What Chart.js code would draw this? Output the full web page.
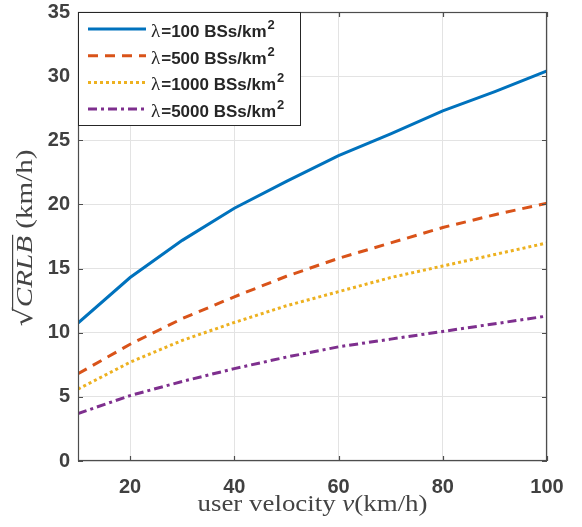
<!DOCTYPE html>
<html>
<head>
<meta charset="utf-8">
<script src="https://cdn.jsdelivr.net/npm/chart.js@4/dist/chart.umd.min.js"></script>
<style>
  body { margin: 0; background: #fff; }
</style>
</head>
<body>
<canvas id="crlb" width="582" height="527"></canvas>
<script>
// 速度 (km/h)
const velocity = [10, 20, 30, 40, 50, 60, 70, 80, 90, 100];
// sqrt(CRLB) 各基站密度
const lam100 = [10.75, 14.3, 17.2, 19.7, 21.8, 23.8, 25.5, 27.3, 28.8, 30.4];
const lam500 = [6.8, 9.1, 11.1, 12.8, 14.4, 15.8, 17.0, 18.2, 19.2, 20.1];
const lam1000 = [5.6, 7.7, 9.4, 10.8, 12.1, 13.2, 14.3, 15.2, 16.1, 17.0];
const lam5000 = [3.7, 5.1, 6.2, 7.2, 8.1, 8.9, 9.5, 10.1, 10.7, 11.3];
const legendLabels = ['=100 BSs/km', '=500 BSs/km', '=1000 BSs/km', '=5000 BSs/km'];
const xTicks = [20, 40, 60, 80, 100];
const yTicks = [0, 5, 10, 15, 20, 25, 30, 35];

const toPts = arr => velocity.map((v, i) => ({ x: v, y: arr[i] }));

// 混合字体文本，按目标宽度横向缩放
function drawParts(ctx, parts, cx, baseY, targetW, overlineIdx) {
  let total = 0;
  parts.forEach(p => { ctx.font = p[0]; total += ctx.measureText(p[1]).width; });
  ctx.save();
  ctx.translate(cx, baseY);
  ctx.scale(targetW / total, 1);
  let px = -total / 2;
  parts.forEach((p, k) => {
    ctx.font = p[0];
    const w = ctx.measureText(p[1]).width;
    ctx.fillText(p[1], px, 0);
    if (k === overlineIdx) ctx.fillRect(px - 3, -20, w + 4, 1.2);
    px += w;
  });
  ctx.restore();
}

// 边框、刻度、图例、坐标轴标题
const decor = {
  id: 'decor',
  afterDraw(chart) {
    const { ctx, chartArea: a, scales: { x, y } } = chart;
    ctx.save();
    // 边框
    ctx.strokeStyle = '#4d4d4d';
    ctx.lineWidth = 1.2;
    ctx.strokeRect(a.left + 0.5, a.top + 0.5, a.right - a.left - 1, a.bottom - a.top - 1);
    ctx.beginPath();
    xTicks.forEach(v => {
      const px = Math.round(x.getPixelForValue(v)) + 0.5;
      ctx.moveTo(px, a.bottom); ctx.lineTo(px, a.bottom - 5);
      ctx.moveTo(px, a.top); ctx.lineTo(px, a.top + 5);
    });
    yTicks.forEach(v => {
      const py = Math.round(y.getPixelForValue(v)) + 0.5;
      ctx.moveTo(a.left, py); ctx.lineTo(a.left + 5, py);
      ctx.moveTo(a.right, py); ctx.lineTo(a.right - 5, py);
    });
    ctx.stroke();

    // 图例
    const lx = a.left + 0.5, ly = a.top + 0.5, lw = 222, lh = 113;
    ctx.fillStyle = '#fff';
    ctx.fillRect(lx, ly, lw, lh);
    ctx.strokeStyle = '#262626';
    ctx.lineWidth = 1;
    ctx.strokeRect(lx, ly, lw, lh);
    chart.data.datasets.forEach((ds, i) => {
      const ry = a.top + 17 + i * 26.7;
      ctx.save();
      ctx.strokeStyle = ds.borderColor;
      ctx.lineWidth = ds.borderWidth;
      ctx.setLineDash(ds.borderDash || []);
      ctx.beginPath();
      ctx.moveTo(a.left + 10, ry);
      ctx.lineTo(a.left + 68, ry);
      ctx.stroke();
      ctx.restore();
      ctx.fillStyle = '#262626';
      ctx.textBaseline = 'alphabetic';
      ctx.textAlign = 'left';
      let tx = a.left + 73;
      const by = ry + 8;
      ctx.font = '19px "Liberation Serif"';
      ctx.fillText('λ', tx, by);
      tx += ctx.measureText('λ').width + 1;
      ctx.font = 'bold 17px "Liberation Sans"';
      ctx.fillText(legendLabels[i], tx, by);
      tx += ctx.measureText(legendLabels[i]).width + 1;
      ctx.font = 'bold 13px "Liberation Sans"';
      ctx.fillText('2', tx, by - 8);
    });

    // x 轴标题
    ctx.fillStyle = '#444';
    ctx.textBaseline = 'alphabetic';
    ctx.textAlign = 'left';
    drawParts(ctx, [
      ['23px "Liberation Serif"', 'user velocity '],
      ['italic 23px "Liberation Serif"', 'v'],
      ['23px "Liberation Serif"', '(km/h)']
    ], (a.left + a.right) / 2, 511, 230, -1);

    // y 轴标题 (旋转)
    ctx.save();
    ctx.translate(32, 238);
    ctx.rotate(-Math.PI / 2);
    drawParts(ctx, [
      ['25px "DejaVu Serif"', '√'],
      ['italic 24px "Liberation Serif"', 'CRLB'],
      ['24px "Liberation Serif"', ' (km/h)']
    ], 0, 0, 177, 1);
    ctx.restore();
    ctx.restore();
  }
};

new Chart(document.getElementById('crlb').getContext('2d'), {
  type: 'line',
  data: {
    datasets: [
      { data: toPts(lam100), borderColor: '#0072BD', borderWidth: 3, pointRadius: 0, tension: 0, fill: false },
      { data: toPts(lam500), borderColor: '#D95319', borderWidth: 3, borderDash: [10, 7], pointRadius: 0, tension: 0, fill: false },
      { data: toPts(lam1000), borderColor: '#EDB120', borderWidth: 3, borderDash: [3, 3], pointRadius: 0, tension: 0, fill: false },
      { data: toPts(lam5000), borderColor: '#7E2F8E', borderWidth: 3, borderDash: [9, 4, 3, 4], pointRadius: 0, tension: 0, fill: false }
    ]
  },
  options: {
    responsive: false,
    animation: false,
    layout: { padding: { top: 12, right: 35, left: 0, bottom: 0 } },
    plugins: {
      legend: { display: false },
      tooltip: { enabled: false }
    },
    scales: {
      x: {
        type: 'linear',
        min: 10,
        max: 100,
        afterBuildTicks: s => { s.ticks = xTicks.map(v => ({ value: v })); },
        afterFit: s => { s.height = 66; s.paddingLeft = 0; s.paddingRight = 0; },
        grid: { color: '#e3e3e3', drawTicks: false },
        border: { display: false },
        ticks: {
          padding: 14,
          color: '#404040',
          font: { family: '"Liberation Sans"', size: 20, weight: 'bold' }
        }
      },
      y: {
        min: 0,
        max: 35,
        afterBuildTicks: s => { s.ticks = yTicks.map(v => ({ value: v })); },
        afterFit: s => { s.width = 78; s.paddingTop = 0; s.paddingBottom = 0; },
        grid: { color: '#e3e3e3', drawTicks: false },
        border: { display: false },
        ticks: {
          padding: 8,
          color: '#404040',
          font: { family: '"Liberation Sans"', size: 20, weight: 'bold' }
        }
      }
    }
  },
  plugins: [decor]
});
</script>
</body>
</html>
